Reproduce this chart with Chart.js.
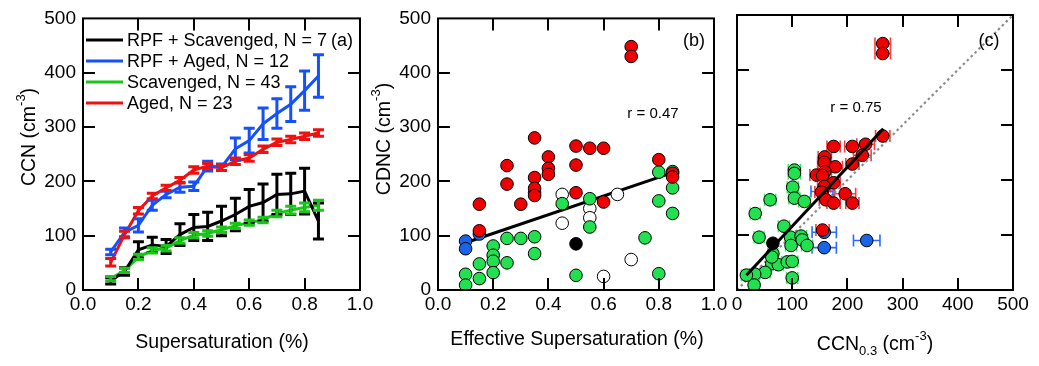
<!DOCTYPE html>
<html>
<head>
<meta charset="utf-8">
<script src="https://cdn.jsdelivr.net/npm/chart.js@4.4.1/dist/chart.umd.min.js"></script>
<style>
  body { margin: 0; background: #fff; }
  #wrap { position: relative; width: 1039px; height: 366px; }
  #wrap canvas { position: absolute; left: 0; top: 0; }
</style>
</head>
<body>
<div id="wrap">
  <canvas id="chartA" width="1039" height="366"></canvas>
  <canvas id="chartB" width="1039" height="366"></canvas>
  <canvas id="chartC" width="1039" height="366"></canvas>
</div>
<script>
// ---- panel (a): mean CCN spectra per category ----
var supersat = [0.10, 0.15, 0.20, 0.25, 0.30, 0.35, 0.40, 0.45, 0.50, 0.55, 0.60, 0.65, 0.70, 0.75, 0.80, 0.85];
var rpfScavenged    = [17, 34, 74, 83, 80, 102, 115, 117, 127, 139, 154, 161, 176, 177, 182, 127];
var rpfScavengedErr = [6, 7, 15, 14, 13, 20, 24, 26, 27, 30, 31, 34, 37, 38, 42, 33];
var rpfAged         = [70, 106, 119, 156, 176, 189, 191, 228, 226, 260, 275, 306, 325, 342, 367, 394];
var rpfAgedErr      = [5, 8, 12, 9, 6, 9, 8, 9, 6, 20, 23, 29, 27, 32, 36, 39];
var scavenged       = [21, 36, 61, 73, 77, 91, 101, 104, 111, 118, 124, 129, 141, 147, 152, 156];
var scavengedErr    = [4, 4, 5, 5, 5, 5, 5, 5, 5, 5, 5, 5, 6, 7, 8, 9];
var aged            = [51, 102, 146, 173, 188, 202, 221, 228, 225, 237, 243, 259, 272, 277, 283, 289];
var agedErr         = [7, 6, 6, 5, 5, 5, 6, 5, 5, 6, 6, 6, 6, 6, 6, 6];
var seriesLabels = ['RPF + Scavenged, N = 7', 'RPF + Aged, N = 12', 'Scavenged, N = 43', 'Aged, N = 23'];

// ---- panel (b): CDNC vs effective supersaturation ----
var bAgedX = [0.15, 0.15, 0.25, 0.25, 0.3, 0.35, 0.35, 0.35, 0.35, 0.4, 0.4, 0.4, 0.5, 0.5, 0.5, 0.55, 0.6, 0.6, 0.7, 0.7, 0.8, 0.85, 0.85];
var bAgedY = [158, 109, 229, 195, 158, 280, 207, 187, 174, 245, 224, 213, 265, 230, 179, 261, 261, 162, 448, 430, 240, 215, 208];
var bRpfAgedX = [0.1, 0.1, 0.15, 0.35];
var bRpfAgedY = [90, 76, 103, 179];
var bScavX = [0.1, 0.1, 0.15, 0.15, 0.2, 0.2, 0.2, 0.2, 0.25, 0.25, 0.3, 0.35, 0.35, 0.45, 0.5, 0.55, 0.55, 0.75, 0.8, 0.8, 0.8, 0.85, 0.85, 0.85];
var bScavY = [29, 9, 48, 21, 81, 64, 53, 32, 95, 50, 95, 98, 67, 159, 27, 168, 116, 96, 217, 164, 30, 218, 188, 141];
var bOpenX = [0.45, 0.45, 0.55, 0.55, 0.6, 0.65, 0.7];
var bOpenY = [176, 123, 150, 133, 25, 176, 56];
var bRpfScavX = [0.5];
var bRpfScavY = [85];
var bFitX = [0.1, 0.85];
var bFitY = [87, 216];

// ---- panel (c): CDNC vs CCN at 0.3 % ----
var cAgedX   = [264, 264, 264, 175, 209, 233, 227, 209, 159, 158, 178, 159, 144, 155, 175, 158, 153, 196, 161, 175, 209, 155];
var cAgedY   = [448, 430, 280, 261, 261, 265, 245, 229, 242, 232, 224, 215, 209, 208, 195, 188, 178, 175, 164, 158, 158, 109];
var cAgedErr = [14, 14, 13, 12, 14, 16, 16, 12, 12, 12, 13, 12, 12, 12, 12, 12, 12, 19, 12, 12, 12, 12];
var cRpfAgedX   = [158, 158, 235, 154];
var cRpfAgedY   = [105, 77, 90, 179];
var cRpfAgedErr = [22, 22, 24, 20];
var cScavX   = [104, 104, 101, 60, 104, 122, 33, 85, 40, 97, 116, 118, 98, 127, 65, 63, 75, 91, 100, 51, 32, 17, 100, 31, 63];
var cScavY   = [218, 212, 187, 164, 167, 161, 139, 116, 96, 96, 98, 91, 81, 81, 66, 48, 46, 51, 52, 32, 29, 27, 22, 9, 60];
var cScavErr = [11, 11, 10, 10, 10, 10, 9, 10, 9, 10, 10, 10, 10, 10, 9, 9, 9, 10, 10, 9, 9, 9, 10, 9, 9];
var cRpfScavX = [65];
var cRpfScavY = [85];
var cFitX = [17, 265];
var cFitY = [27, 293];
var oneToOneX = [0, 500];
var oneToOneY = [0, 500];

var FONT = "'Liberation Sans', Arial, Helvetica, sans-serif";
Chart.defaults.font.family = FONT;
Chart.defaults.color = '#000';
Chart.defaults.animation = false;
Chart.defaults.plugins.legend.display = false;
Chart.defaults.plugins.tooltip.enabled = false;

var RED = '#ee0000', GREEN = '#22e050', BLUE = '#1a64e6';

function pts(xs, ys) {
  return xs.map(function (x, i) { return { x: x, y: ys[i] }; });
}

function xAxis(max, step, fmt) {
  return {
    type: 'linear', min: 0, max: max,
    grid: { display: false, drawTicks: false },
    border: { display: false },
    ticks: { stepSize: step, autoSkip: false, maxRotation: 0, padding: 3, font: { size: 19 }, color: '#000', callback: fmt },
    afterFit: function (s) { s.height = 40; }
  };
}

function yAxis(showLabels) {
  return {
    type: 'linear', min: 0, max: 500,
    grid: { display: false, drawTicks: false },
    border: { display: false },
    ticks: { stepSize: 100, display: showLabels, padding: 7, font: { size: 19 }, color: '#000' },
    afterFit: function (s) { s.width = showLabels ? 60 : 0; }
  };
}

// box round the plot with inward ticks on all four sides
var framePlugin = {
  id: 'frame',
  afterDraw: function (chart) {
    var ctx = chart.ctx, a = chart.chartArea;
    var xs = chart.scales.x, ys = chart.scales.y;
    ctx.save();
    ctx.strokeStyle = '#000';
    ctx.lineWidth = 2;
    ctx.beginPath();
    xs.ticks.forEach(function (t) {
      if (t.value <= xs.min || t.value >= xs.max - 1e-9) return;
      var px = Math.round(xs.getPixelForValue(t.value));
      ctx.moveTo(px, a.bottom); ctx.lineTo(px, a.bottom - 12);
      ctx.moveTo(px, a.top); ctx.lineTo(px, a.top + 12);
    });
    ys.ticks.forEach(function (t) {
      if (t.value <= ys.min || t.value >= ys.max) return;
      var py = Math.round(ys.getPixelForValue(t.value));
      ctx.moveTo(a.left, py); ctx.lineTo(a.left + 12, py);
      ctx.moveTo(a.right, py); ctx.lineTo(a.right - 12, py);
    });
    ctx.stroke();
    ctx.strokeRect(a.left, a.top, a.right - a.left, a.bottom - a.top);
    ctx.restore();
  }
};

function errorBars(sets, under) {
  function draw(chart) {
    var ctx = chart.ctx, xs = chart.scales.x, ys = chart.scales.y;
    ctx.save();
    sets.forEach(function (s) {
      var data = chart.data.datasets[s.dataset].data;
      ctx.strokeStyle = s.color;
      ctx.lineWidth = s.width;
      ctx.beginPath();
      data.forEach(function (p, i) {
        var e = s.err[i];
        if (!e) return;
        var cx = xs.getPixelForValue(p.x), cy = ys.getPixelForValue(p.y);
        if (s.axis === 'y') {
          var y1 = ys.getPixelForValue(p.y - e), y2 = ys.getPixelForValue(p.y + e);
          ctx.moveTo(cx, y1); ctx.lineTo(cx, y2);
          ctx.moveTo(cx - s.cap, y1); ctx.lineTo(cx + s.cap, y1);
          ctx.moveTo(cx - s.cap, y2); ctx.lineTo(cx + s.cap, y2);
        } else {
          var x1 = xs.getPixelForValue(p.x - e), x2 = xs.getPixelForValue(p.x + e);
          ctx.moveTo(x1, cy); ctx.lineTo(x2, cy);
          ctx.moveTo(x1, cy - s.cap); ctx.lineTo(x1, cy + s.cap);
          ctx.moveTo(x2, cy - s.cap); ctx.lineTo(x2, cy + s.cap);
        }
      });
      ctx.stroke();
    });
    ctx.restore();
  }
  return under ? { id: 'errUnder', beforeDatasetsDraw: draw } : { id: 'errOver', afterDatasetsDraw: draw };
}

// text with super/subscripts, optionally rotated
function drawRich(ctx, it) {
  var size = it.size || 19.5;
  var parts = it.parts.map(function (p) {
    var s = p[1] ? Math.round(size * 0.66) : size;
    ctx.font = s + 'px ' + FONT;
    return { t: p[0], kind: p[1], font: ctx.font, w: ctx.measureText(p[0]).width };
  });
  var total = parts.reduce(function (s, p) { return s + p.w; }, 0);
  ctx.save();
  ctx.translate(it.x, it.y);
  if (it.rot) ctx.rotate(-Math.PI / 2);
  ctx.fillStyle = it.color || '#000';
  ctx.textBaseline = 'alphabetic';
  var x = -total / 2, base = size * 0.36;
  parts.forEach(function (p) {
    ctx.font = p.font;
    var dy = p.kind === 'sup' ? -size * 0.5 : (p.kind === 'sub' ? size * 0.28 : 0);
    ctx.fillText(p.t, x, base + dy);
    x += p.w;
  });
  ctx.restore();
}

function richText(items) {
  return {
    id: 'richText',
    afterDraw: function (chart) {
      items.forEach(function (it) { drawRich(chart.ctx, it); });
    }
  };
}

function lineLegend(x0, y0, dy) {
  return {
    id: 'lineLegend',
    afterDraw: function (chart) {
      var ctx = chart.ctx;
      ctx.save();
      ctx.font = '18px ' + FONT;
      ctx.textBaseline = 'middle';
      ctx.fillStyle = '#000';
      chart.data.datasets.forEach(function (ds, i) {
        var y = y0 + i * dy;
        ctx.strokeStyle = ds.borderColor;
        ctx.lineWidth = 3;
        ctx.beginPath();
        ctx.moveTo(x0, y); ctx.lineTo(x0 + 37, y);
        ctx.stroke();
        ctx.fillText(ds.label, x0 + 41, y + 1);
      });
      ctx.restore();
    }
  };
}

var fmt1 = function (v) { return v.toFixed(1); };
var fmt0 = function (v) { return String(v); };

// ---------------- chart (a) ----------------
var lineColors = ['#000000', '#1550ff', '#17c617', '#f01010'];
var aValues = [rpfScavenged, rpfAged, scavenged, aged];
var aErrors = [rpfScavengedErr, rpfAgedErr, scavengedErr, agedErr];

new Chart(document.getElementById('chartA'), {
  type: 'scatter',
  data: {
    datasets: aValues.map(function (vals, i) {
      return {
        label: seriesLabels[i], data: pts(supersat, vals), showLine: true,
        borderColor: lineColors[i], backgroundColor: lineColors[i], borderWidth: 3, pointRadius: 0
      };
    })
  },
  options: {
    responsive: false, devicePixelRatio: 1,
    layout: { padding: { left: 23, right: 679, top: 15, bottom: 36 } },
    scales: { x: xAxis(1, 0.2, fmt1), y: yAxis(true) }
  },
  plugins: [
    errorBars(aErrors.map(function (e, i) {
      return { dataset: i, err: e, color: lineColors[i], width: 3, cap: 5.5, axis: 'y' };
    }), false),
    framePlugin,
    lineLegend(86, 40, 21),
    richText([
      { x: 28, y: 137, rot: true, parts: [['CCN (cm'], ['-3', 'sup'], [')']] },
      { x: 222, y: 341, parts: [['Supersaturation (%)']] },
      { x: 342, y: 40, size: 18, parts: [['(a)']] }
    ])
  ]
});

// ---------------- chart (b) ----------------
function dots(label, xs, ys, fill) {
  return { label: label, data: pts(xs, ys), backgroundColor: fill, borderColor: '#000', borderWidth: 1, pointRadius: 6.3 };
}

new Chart(document.getElementById('chartB'), {
  type: 'scatter',
  data: {
    datasets: [
      dots('Aged', bAgedX, bAgedY, RED),
      dots('RPF + Aged', bRpfAgedX, bRpfAgedY, BLUE),
      dots('Scavenged', bScavX, bScavY, GREEN),
      dots('Other', bOpenX, bOpenY, '#ffffff'),
      dots('RPF + Scavenged', bRpfScavX, bRpfScavY, '#000000'),
      { label: 'fit', data: pts(bFitX, bFitY), showLine: true, borderColor: '#000', borderWidth: 3, pointRadius: 0 }
    ]
  },
  options: {
    responsive: false, devicePixelRatio: 1,
    layout: { padding: { left: 378, right: 325, top: 15, bottom: 36 } },
    scales: { x: xAxis(1, 0.2, fmt1), y: yAxis(true) }
  },
  plugins: [
    framePlugin,
    richText([
      { x: 383, y: 139, rot: true, parts: [['CDNC (cm'], ['-3', 'sup'], [')']] },
      { x: 577, y: 338, parts: [['Effective Supersaturation (%)']] },
      { x: 694, y: 40, size: 18, parts: [['(b)']] },
      { x: 653, y: 113, size: 15, parts: [['r = 0.47']] }
    ])
  ]
});

// ---------------- chart (c) ----------------
new Chart(document.getElementById('chartC'), {
  type: 'scatter',
  data: {
    datasets: [
      { label: 'fit', data: pts(cFitX, cFitY), showLine: true, borderColor: '#000', borderWidth: 3, pointRadius: 0 },
      dots('RPF + Scavenged', cRpfScavX, cRpfScavY, '#000000'),
      dots('Aged', cAgedX, cAgedY, RED),
      dots('RPF + Aged', cRpfAgedX, cRpfAgedY, BLUE),
      dots('Scavenged', cScavX, cScavY, GREEN),
      { label: '1:1', data: pts(oneToOneX, oneToOneY), showLine: true, borderColor: '#8c8c8c', borderWidth: 2.2, borderDash: [2.5, 3], pointRadius: 0 }
    ]
  },
  options: {
    responsive: false, devicePixelRatio: 1,
    layout: { padding: { left: 737, right: 26, top: 15, bottom: 36 } },
    scales: { x: xAxis(500, 100, fmt0), y: yAxis(false) }
  },
  plugins: [
    errorBars([
      { dataset: 2, err: cAgedErr, color: '#ff3a3a', width: 1.6, cap: 6, axis: 'x' },
      { dataset: 3, err: cRpfAgedErr, color: '#2a6cff', width: 1.6, cap: 6, axis: 'x' },
      { dataset: 4, err: cScavErr, color: '#3ee060', width: 1.6, cap: 6, axis: 'x' }
    ], true),
    framePlugin,
    richText([
      { x: 875, y: 343, parts: [['CCN'], ['0.3', 'sub'], [' (cm'], ['-3', 'sup'], [')']] },
      { x: 989, y: 40, size: 18, parts: [['(c)']] },
      { x: 856, y: 107, size: 15, parts: [['r = 0.75']] }
    ])
  ]
});
</script>
</body>
</html>
